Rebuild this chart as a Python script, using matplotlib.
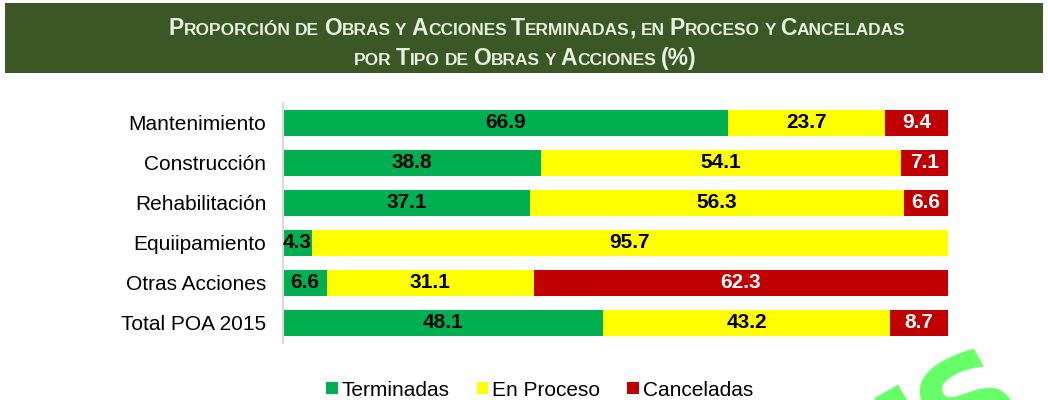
import matplotlib
matplotlib.use("Agg")
import matplotlib.pyplot as plt
from matplotlib.patches import Patch, Rectangle
from matplotlib import font_manager

categories = ["Mantenimiento", "Construcción", "Rehabilitación", "Equiipamiento", "Otras Acciones", "Total POA 2015"]
terminadas = [66.9, 38.8, 37.1, 4.3, 6.6, 48.1]
en_proceso = [23.7, 54.1, 56.3, 95.7, 31.1, 43.2]
canceladas = [9.4, 7.1, 6.6, 0.0, 62.3, 8.7]
series_names = ["Terminadas", "En Proceso", "Canceladas"]
colors = ["#00b050", "#ffff00", "#c00000"]
label_colors = ["black", "black", "white"]

title_lines = ["Proporción de Obras y Acciones Terminadas, en Proceso y Canceladas",
               "por Tipo de Obras y Acciones (%)"]

W, H = 1048, 400
fig = plt.figure(figsize=(W / 100, H / 100), dpi=100)

names = {f.name for f in font_manager.fontManager.ttflist}
title_font = "Liberation Sans Narrow" if "Liberation Sans Narrow" in names else "Liberation Sans"
body_font = "Liberation Sans"
plt.rcParams["font.family"] = [body_font, "DejaVu Sans"]

# title banner
fig.patches.append(Rectangle((5 / W, 1 - 73 / H), 1038 / W, 70 / H, transform=fig.transFigure,
                             facecolor="#3a5725", edgecolor="none", zorder=0))


def small_caps(line, y_px, big, small, center_px):
    # fake small caps: lower case letters drawn as smaller capitals
    renderer = fig.canvas.get_renderer()
    words = []
    for word in line.split(" "):
        runs = []
        for ch in word:
            is_small = ch.islower()
            if runs and runs[-1][1] == is_small:
                runs[-1][0] += ch.upper()
            else:
                runs.append([ch.upper(), is_small])
        texts = []
        for s, is_small in runs:
            t = fig.text(0, 1 - y_px / H, s, fontsize=small if is_small else big,
                         fontweight="bold", family=title_font, color="#e8f0e0", va="baseline", ha="left")
            texts.append(t)
        words.append(texts)
    space = big * 0.2 * 100 / 72
    widths = [[t.get_window_extent(renderer).width for t in w] for w in words]
    total = sum(sum(w) for w in widths) + space * (len(words) - 1)
    x = center_px - total / 2
    for texts, ws in zip(words, widths):
        for t, w in zip(texts, ws):
            t.set_x(x / W)
            x += w
        x += space


small_caps(title_lines[0], 35, 16.5, 12.5, 537)
small_caps(title_lines[1], 65, 16.5, 12.5, 525)

ax = fig.add_axes([283 / W, 1 - 343 / H, 665 / W, 240 / H])
y = list(range(len(categories)))
left = [0.0] * len(categories)
for vals, name, c, lc in zip([terminadas, en_proceso, canceladas], series_names, colors, label_colors):
    ax.barh(y, vals, left=left, height=0.65, color=c, label=name)
    for i, v in enumerate(vals):
        if v > 0:
            ax.text(left[i] + v / 2, i, f"{v:.1f}", ha="center", va="center",
                    fontsize=15, fontweight="bold", color=lc)
    left = [l + v for l, v in zip(left, vals)]

ax.set_xlim(0, 100)
ax.set_ylim(5.5, -0.5)
ax.set_yticks(y)
ax.set_yticklabels(categories, fontsize=15)
ax.tick_params(axis="y", length=0, pad=12)
ax.set_xticks([])
for s in ["top", "right", "bottom"]:
    ax.spines[s].set_visible(False)
ax.spines["left"].set_color("#d9d9d9")
ax.spines["left"].set_linewidth(1.5)

handles = [Patch(facecolor=c, label=n) for c, n in zip(colors, series_names)]
fig.legend(handles=handles, loc="center", bbox_to_anchor=(0.515, 0.025), ncol=3, frameon=False,
           fontsize=15, handlelength=0.55, handleheight=0.55, handletextpad=0.2, columnspacing=1.3)

# watermark fragment at the bottom right
for ch, xf, yf, fs in [("I", 0.876, -0.105, 105), ("S", 0.928, -0.025, 98)]:
    fig.text(xf, yf, ch, fontsize=fs, fontweight="bold", family="DejaVu Sans", color="#66ff66",
             rotation=30, rotation_mode="anchor", ha="center", va="center", zorder=10)

fig.savefig("out.png", dpi=100)
